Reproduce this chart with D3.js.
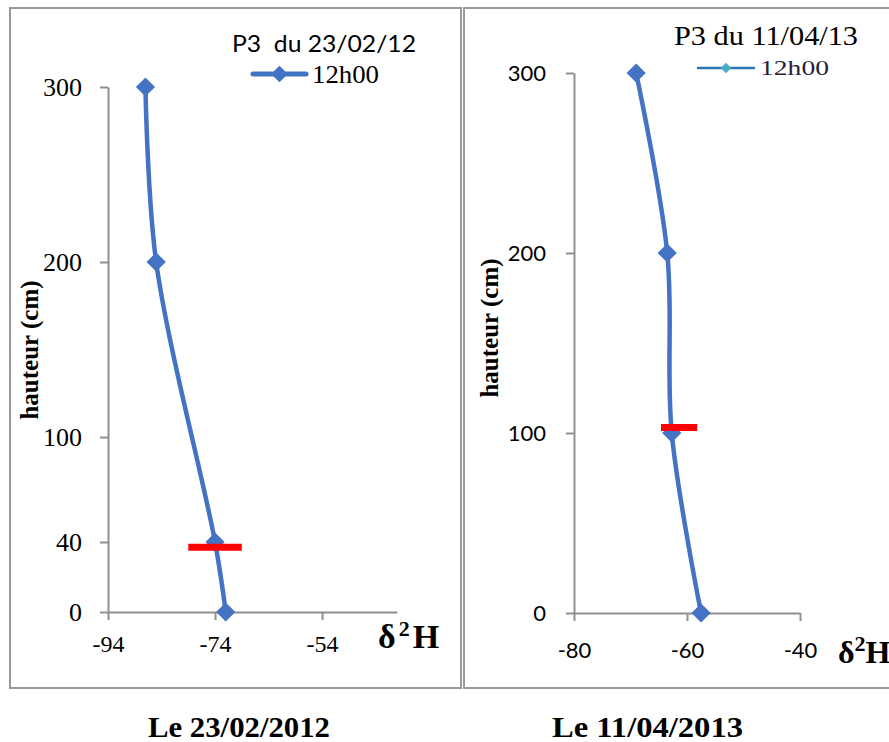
<!DOCTYPE html>
<html>
<head>
<meta charset="utf-8">
<script src="https://cdn.jsdelivr.net/npm/d3@7"></script>
<style>
  body { margin: 0; background: #fff; }
  text { white-space: pre; }
</style>
</head>
<body>
<svg id="chart" width="889" height="742"></svg>
<script>
// profile 1 : 23/02/2012
const depthsLeft = [300, 200, 40, 0];
const valuesLeft = [-87, -85, -74, -72];
const yTicksLeft = [0, 40, 100, 200, 300];
const xTicksLeft = [-94, -74, -54];
const xDomainLeft = [-94, -40];
const redLeft = [-79, -69, 37]; // from, to, depth

// profile 2 : 11/04/2013
const depthsRight = [300, 200, 100, 0];
const valuesRight = [-69, -63.5, -62.7, -57.5];
const yTicksRight = [0, 100, 200, 300];
const xTicksRight = [-80, -60, -40];
const xDomainRight = [-80, -40];
const redRight = [-64.6, -58.2, 103];

const titles = ['P3  du 23/02/12', 'P3 du 11/04/13'];
const captions = ['Le 23/02/2012', 'Le 11/04/2013'];
const seriesName = '12h00';

const blue = '#4472C4';
const axisGrey = '#8f8f8f';
const serif = '"Liberation Serif", "Times New Roman", serif';
const sans = 'Lato, "Open Sans", sans-serif';

const svg = d3.select('#chart');

// panel frames
svg.append('rect')
  .attr('x', 10).attr('y', 8).attr('width', 451).attr('height', 680)
  .attr('fill', 'none').attr('stroke', '#9a9a9a').attr('stroke-width', 2);
svg.append('rect')
  .attr('x', 464).attr('y', 8).attr('width', 440).attr('height', 680)
  .attr('fill', 'none').attr('stroke', '#9a9a9a').attr('stroke-width', 2);

const diamond = (size) => d3.symbol().type(d3.symbolSquare).size(size);
const plain = (d) => `${d}`; // keep the hyphen minus of the original

const drawPanel = (opt) => {
  const data = opt.depths.map((d, i) => ({ depth: d, value: opt.values[i] }));

  const x = d3.scaleLinear().domain(opt.xDomain).range(opt.xRange);
  const y = d3.scaleLinear().domain([0, 300]).range(opt.yRange);

  const g = svg.append('g');

  const leftAxis = d3.axisLeft(y)
    .tickValues(opt.yTicks)
    .tickFormat(plain)
    .tickSize(8)
    .tickSizeOuter(0)
    .tickPadding(opt.yPad);

  const gy = g.append('g')
    .attr('transform', `translate(${opt.xRange[0]}, 0)`)
    .call(leftAxis);

  const bottomAxis = d3.axisBottom(x)
    .tickValues(opt.xTicks)
    .tickFormat(plain)
    .tickSize(8)
    .tickSizeOuter(0)
    .tickPadding(opt.xPad);

  const gx = g.append('g')
    .attr('transform', `translate(0, ${opt.yRange[0]})`)
    .call(bottomAxis);

  [gy, gx].forEach((ax) => {
    ax.selectAll('path, line').attr('stroke', axisGrey).attr('stroke-width', 2);
    ax.selectAll('text')
      .attr('fill', '#000')
      .style('font-family', opt.tickFont)
      .style('font-size', opt.tickSize + 'px');
  });
  gx.selectAll('text').style('font-size', opt.xTickSize + 'px');

  // smoothed profile line
  const line = d3.line()
    .x((d) => x(d.value))
    .y((d) => y(d.depth))
    .curve(d3.curveCatmullRom.alpha(0.5));

  g.append('path')
    .datum(data)
    .attr('d', line)
    .attr('fill', 'none')
    .attr('stroke', blue)
    .attr('stroke-width', 4.5);

  g.selectAll('.pt')
    .data(data)
    .enter()
    .append('path')
    .attr('class', 'pt')
    .attr('d', diamond(185))
    .attr('transform', (d) => `translate(${x(d.value)}, ${y(d.depth)}) rotate(45)`)
    .attr('fill', blue);

  // red level marker
  g.append('line')
    .attr('x1', x(opt.red[0]))
    .attr('x2', x(opt.red[1]))
    .attr('y1', y(opt.red[2]))
    .attr('y2', y(opt.red[2]))
    .attr('stroke', '#ff0000')
    .attr('stroke-width', 7);

  // axis titles
  g.append('text')
    .text('hauteur (cm)')
    .attr('transform', `translate(${opt.yTitle[0]}, ${opt.yTitle[1]}) rotate(-90)`)
    .attr('text-anchor', 'middle')
    .attr('dy', '0.35em')
    .style('font-family', serif)
    .style('font-weight', 'bold')
    .style('font-size', '25px');

  const dh = g.append('text')
    .attr('x', opt.dh[0])
    .attr('y', opt.dh[1])
    .style('font-family', serif)
    .style('font-weight', 'bold')
    .style('font-size', opt.dhSize + 'px');
  dh.append('tspan').text('δ');
  dh.append('tspan').text('2').attr('dx', opt.dhGap).attr('dy', -12).style('font-size', '22px');
  dh.append('tspan').text('H').attr('dx', opt.dhGap).attr('dy', 12);

  // legend
  g.append('text')
    .text(opt.title)
    .attr('x', opt.titlePos[0])
    .attr('y', opt.titlePos[1])
    .attr('textLength', opt.titlePos[2])
    .attr('lengthAdjust', 'spacingAndGlyphs')
    .style('font-family', opt.titleFont)
    .style('font-size', opt.titleSize + 'px');

  g.append('line')
    .attr('x1', opt.legLine[0]).attr('x2', opt.legLine[1])
    .attr('y1', opt.legLine[2]).attr('y2', opt.legLine[2])
    .attr('stroke', opt.legStroke)
    .attr('stroke-width', opt.legWidth)
    .attr('stroke-linecap', 'round');

  g.append('path')
    .attr('d', diamond(opt.legMarkSize))
    .attr('transform', `translate(${(opt.legLine[0] + opt.legLine[1]) / 2}, ${opt.legLine[2]}) rotate(45)`)
    .attr('fill', opt.legMark);

  g.append('text')
    .text(seriesName)
    .attr('x', opt.legText[0])
    .attr('y', opt.legText[1])
    .attr('textLength', opt.legText[2])
    .attr('lengthAdjust', 'spacingAndGlyphs')
    .attr('fill', opt.legTextFill)
    .style('font-family', serif)
    .style('font-size', opt.legTextSize + 'px');

  // caption under panel
  svg.append('text')
    .text(opt.caption)
    .attr('x', opt.captionX[0])
    .attr('y', 737)
    .attr('textLength', opt.captionX[1])
    .attr('lengthAdjust', 'spacingAndGlyphs')
    .style('font-family', serif)
    .style('font-weight', 'bold')
    .style('font-size', '30px');
};

drawPanel({
  depths: depthsLeft, values: valuesLeft,
  yTicks: yTicksLeft, xTicks: xTicksLeft, xDomain: xDomainLeft,
  xRange: [108, 397], yRange: [612, 87],
  yPad: 18, xPad: 15,
  tickFont: serif, tickSize: 26, xTickSize: 24,
  red: redLeft,
  yTitle: [29, 350], dh: [378, 648], dhSize: 34, dhGap: 3,
  title: titles[0], titlePos: [232, 52, 184], titleFont: sans, titleSize: 24,
  legLine: [253, 306, 74], legStroke: blue, legWidth: 5, legMark: blue, legMarkSize: 140,
  legText: [312, 83, 67], legTextFill: '#000', legTextSize: 25,
  caption: captions[0], captionX: [148, 182],
});

drawPanel({
  depths: depthsRight, values: valuesRight,
  yTicks: yTicksRight, xTicks: xTicksRight, xDomain: xDomainRight,
  xRange: [574, 800], yRange: [613, 73],
  yPad: 20, xPad: 21,
  tickFont: sans, tickSize: 22, xTickSize: 22,
  red: redRight,
  yTitle: [489, 328], dh: [838, 663], dhSize: 32, dhGap: 0,
  title: titles[1], titlePos: [674, 45, 184], titleFont: serif, titleSize: 28,
  legLine: [698, 754, 68], legStroke: '#2E75B6', legWidth: 2.5, legMark: '#4BACC6', legMarkSize: 55,
  legText: [760, 75, 69], legTextFill: '#2a1d3a', legTextSize: 22,
  caption: captions[1], captionX: [552, 191],
});
</script>
</body>
</html>
